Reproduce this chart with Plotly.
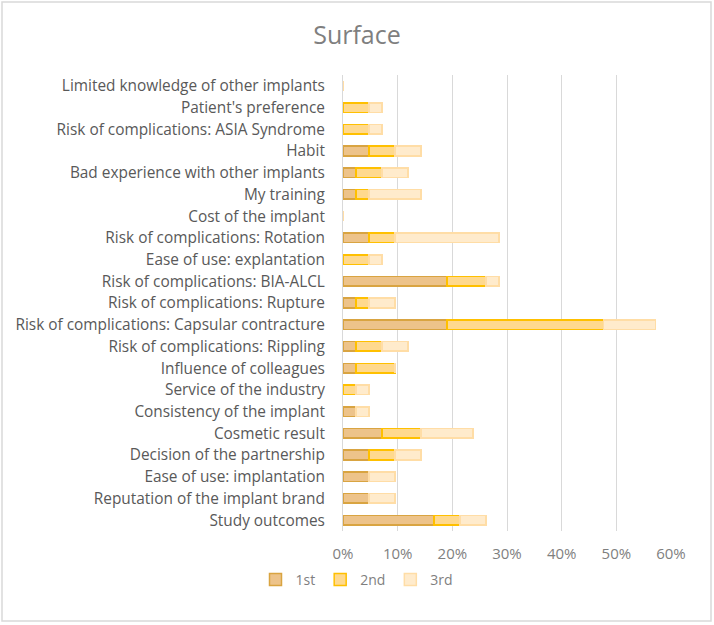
import plotly.graph_objects as go

categories = [
    "Study outcomes",
    "Reputation of the implant brand",
    "Ease of use: implantation",
    "Decision of the partnership",
    "Cosmetic result",
    "Consistency of the implant",
    "Service of the industry",
    "Influence of colleagues",
    "Risk of complications: Rippling",
    "Risk of complications: Capsular contracture",
    "Risk of complications: Rupture",
    "Risk of complications: BIA-ALCL",
    "Ease of use: explantation",
    "Risk of complications: Rotation",
    "Cost of the implant",
    "My training",
    "Bad experience with other implants",
    "Habit",
    "Risk of complications: ASIA Syndrome",
    "Patient's preference",
    "Limited knowledge of other implants",
]

first = [0.1667, 0.0476, 0.0476, 0.0476, 0.0714, 0.0238, 0.0, 0.0238, 0.0238, 0.1905,
         0.0238, 0.1905, 0.0, 0.0476, 0.0, 0.0238, 0.0238, 0.0476, 0.0, 0.0, 0.0]
second = [0.0476, 0.0, 0.0, 0.0476, 0.0714, 0.0, 0.0238, 0.0714, 0.0476, 0.2857,
          0.0238, 0.0714, 0.0476, 0.0476, 0.0, 0.0238, 0.0476, 0.0476, 0.0476, 0.0476, 0.0]
third = [0.0476, 0.0476, 0.0476, 0.0476, 0.0952, 0.0238, 0.0238, 0.0, 0.0476, 0.0952,
         0.0476, 0.0238, 0.0238, 0.1905, 0.0, 0.0952, 0.0476, 0.0476, 0.0238, 0.0238, 0.0]

series = [
    ("1st", first, "#EDC38A", "#D9A441"),
    ("2nd", second, "#FFD98E", "#FFC000"),
    ("3rd", third, "#FFEBCC", "#FFDDA6"),
]

fig = go.Figure()
for name, vals, fill, line in series:
    fig.add_trace(go.Bar(
        y=categories, x=vals, name=name, orientation="h",
        marker=dict(color=fill, line=dict(color=line, width=1.5)),
    ))

W, H = 714, 625
L, R, T, B = 343, 671, 75, 531

fig.update_layout(
    width=W, height=H,
    barmode="stack", bargap=0.56,
    paper_bgcolor="white", plot_bgcolor="white",
    margin=dict(l=L, r=W - R, t=T, b=H - B, pad=0, autoexpand=False),
    font=dict(family="Open Sans, Lato, sans-serif", color="#595959", size=15),
    title=dict(text="Surface", x=(357 - L) / (R - L), xref="paper", xanchor="center",
               y=1 - 35 / H, yanchor="middle",
               font=dict(size=25, color="#7F7F7F")),
    xaxis=dict(range=[0, 0.6], tickformat=".0%", dtick=0.1, showgrid=True,
               gridcolor="#D9D9D9", gridwidth=1, zeroline=False, showline=False,
               tickfont=dict(size=15, color="#7F7F7F"), ticks="",
               ticklabelstandoff=12, automargin=False, fixedrange=True),
    yaxis=dict(showgrid=False, zeroline=False, showline=True, linecolor="#D9D9D9",
               ticks="", ticklabelstandoff=14, automargin=False,
               tickfont=dict(size=15.4, color="#595959")),
    legend=dict(orientation="h", x=(357 - L) / (R - L), xanchor="center",
                y=-(580 - B) / (B - T), yanchor="middle",
                font=dict(size=14, color="#7F7F7F"), traceorder="normal",
                itemwidth=30),
    showlegend=True,
)

# chart border
fig.add_shape(type="rect", xref="paper", yref="paper",
              x0=(2 - L) / (R - L), x1=(711 - L) / (R - L),
              y0=(B - 621) / (B - T), y1=(B - 2) / (B - T),
              line=dict(color="#D9D9D9", width=1.5), layer="below")

fig.write_html("out.html", config={"displayModeBar": False},
               post_script="document.body.style.margin='0px';")
